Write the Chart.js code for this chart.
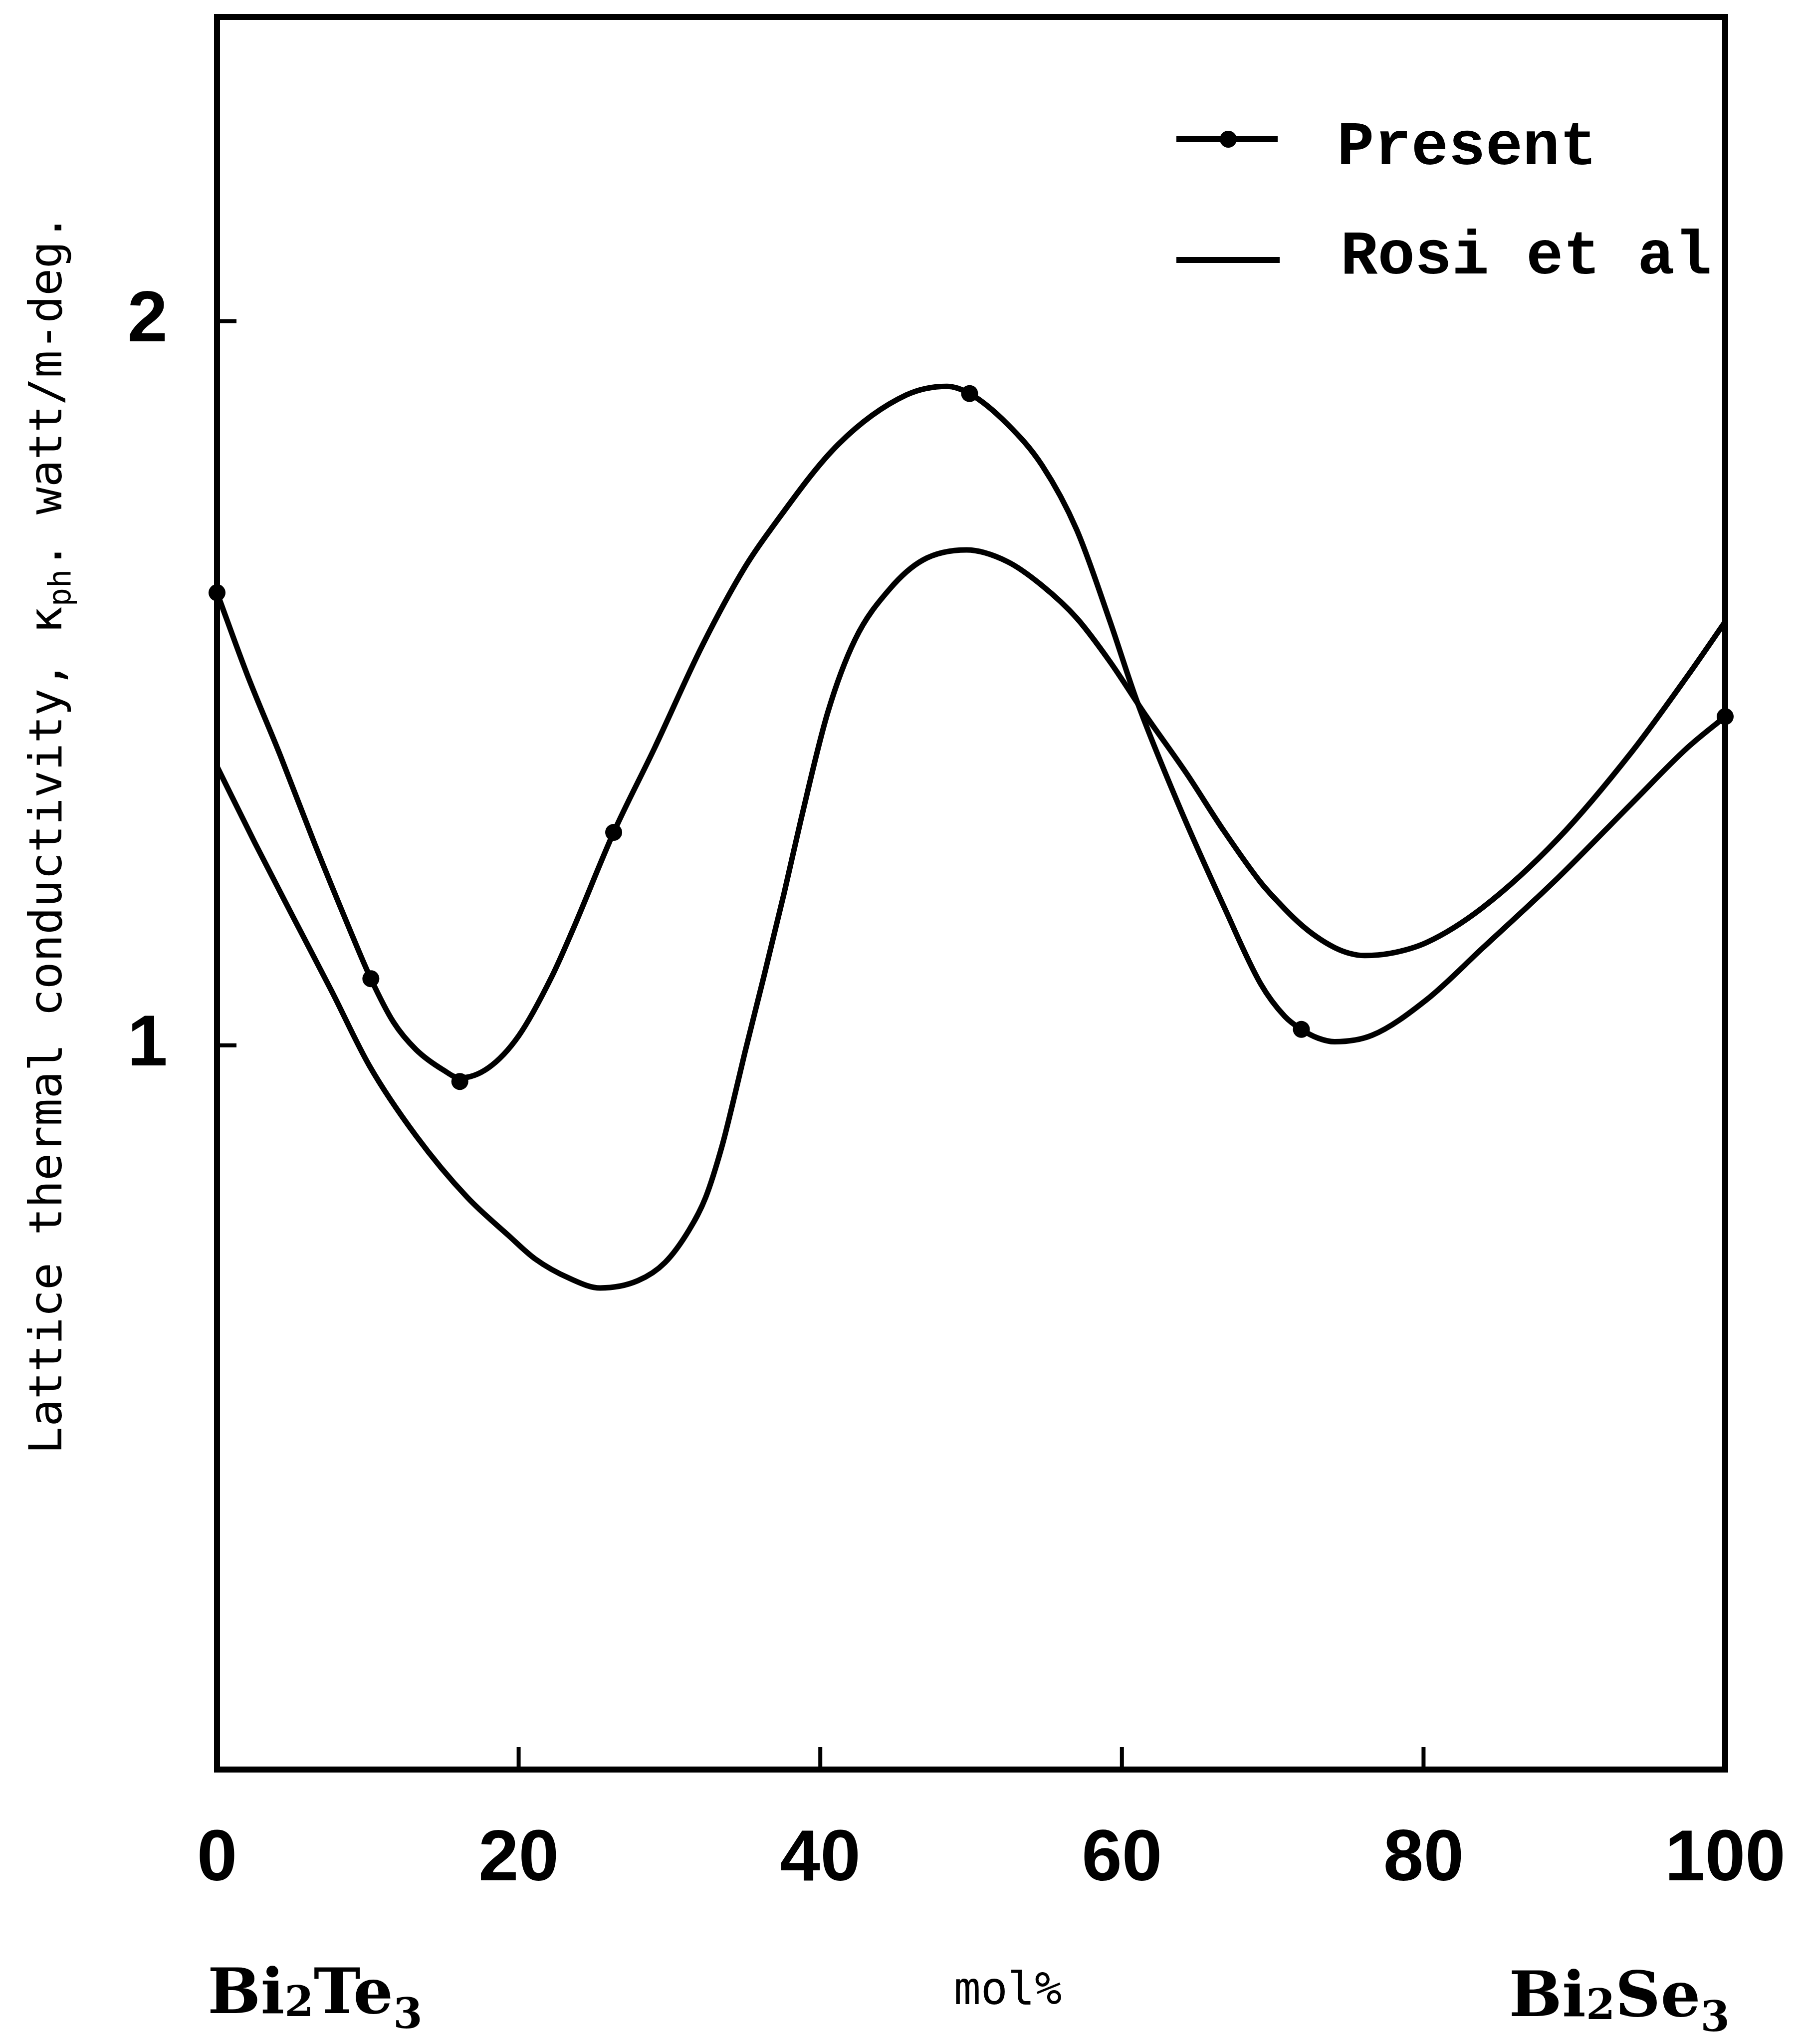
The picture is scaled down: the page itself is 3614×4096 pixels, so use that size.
<!DOCTYPE html>
<html>
<head>
<meta charset="utf-8">
<script src="https://cdn.jsdelivr.net/npm/chart.js@4.4.0/dist/chart.umd.min.js"></script>
<style>
  html, body { margin: 0; padding: 0; background: #fff; }
</style>
</head>
<body>
<canvas id="chart" width="3614" height="4096"></canvas>
<script>
// measured points of the present work (mol% Bi2Se3 vs lattice conductivity)
const markerMol = [0, 10.2, 16.1, 26.3, 49.9, 71.9, 100];
const markerKappa = [1.625, 1.092, 0.95, 1.294, 1.90, 1.022, 1.454];

// the smooth curve drawn through them
const presentMol = [0, 2, 4.2, 6.5, 8.7, 10.2, 11.7, 13.2, 15, 16.1, 18, 20, 22.2, 23.6, 26.3, 29, 32.2, 35, 36.7, 41.2, 45.7, 48.4, 49.9, 52.4, 54.7, 57, 59.2, 61, 63.7, 66.8, 69.2, 70.8, 71.9, 73, 74.1, 76.6, 80.2, 83.9, 88.9, 93.8, 97.5, 100];
const presentKappa = [1.625, 1.512, 1.40, 1.277, 1.165, 1.092, 1.032, 0.994, 0.966, 0.955, 0.969, 1.013, 1.095, 1.16, 1.294, 1.41, 1.553, 1.66, 1.712, 1.83, 1.898, 1.91, 1.90, 1.858, 1.801, 1.712, 1.586, 1.475, 1.335, 1.19, 1.085, 1.04, 1.022, 1.01, 1.005, 1.014, 1.063, 1.134, 1.231, 1.334, 1.411, 1.454];

// Rosi et al curve
const rosiMol = [0, 2.5, 5.1, 7.6, 10.1, 13.2, 16.6, 19.3, 21.1, 23.4, 25.4, 27.9, 29.7, 31.3, 32.4, 33.5, 34.2, 35, 36.2, 37.6, 38.7, 40.5, 42.3, 44.6, 46.8, 49.7, 52.4, 54.7, 57, 59.2, 61.5, 64.3, 66.7, 69.2, 70.4, 71.7, 72.9, 74.1, 75.1, 76.1, 77.8, 80.2, 83.9, 88.9, 93.8, 97.5, 100];
const rosiKappa = [1.385, 1.28, 1.175, 1.075, 0.972, 0.875, 0.79, 0.738, 0.705, 0.678, 0.665, 0.675, 0.70, 0.745, 0.79, 0.862, 0.92, 0.99, 1.09, 1.21, 1.31, 1.46, 1.56, 1.63, 1.67, 1.684, 1.668, 1.635, 1.59, 1.53, 1.458, 1.375, 1.298, 1.225, 1.197, 1.17, 1.15, 1.135, 1.127, 1.124, 1.127, 1.142, 1.19, 1.285, 1.405, 1.51, 1.585];

const xTickLabels = [0, 20, 40, 60, 80, 100];
const yTickLabels = [1, 2];
const xInnerTicks = [20, 40, 60, 80];
const yInnerTicks = [1, 2];

function toPoints(xs, ys) {
    return xs.map((x, i) => ({ x: x, y: ys[i] }));
}

// text made of pieces (for subscripts)
function drawParts(ctx, parts, x, y, align) {
    let total = 0;
    parts.forEach(p => {
        ctx.font = p.font;
        p.w = ctx.measureText(p.text).width;
        total += p.w;
    });
    let cx = x;
    if (align === 'center') cx = x - total / 2;
    if (align === 'right') cx = x - total;
    ctx.textAlign = 'left';
    parts.forEach(p => {
        ctx.font = p.font;
        ctx.fillText(p.text, cx, y + (p.dy || 0));
        cx += p.w;
    });
}

const decorations = {
    id: 'decorations',
    afterDraw(chart) {
        const ctx = chart.ctx;
        const area = chart.chartArea;
        const xs = chart.scales.x;
        const ys = chart.scales.y;
        ctx.save();
        ctx.strokeStyle = '#000';
        ctx.fillStyle = '#000';

        // frame
        ctx.lineWidth = 12;
        ctx.strokeRect(area.left, area.top, area.right - area.left, area.bottom - area.top);

        // inward tick marks
        ctx.lineWidth = 8;
        ctx.beginPath();
        xInnerTicks.forEach(v => {
            const px = xs.getPixelForValue(v);
            ctx.moveTo(px, area.bottom);
            ctx.lineTo(px, area.bottom - 45);
        });
        yInnerTicks.forEach(v => {
            const py = ys.getPixelForValue(v);
            ctx.moveTo(area.left, py);
            ctx.lineTo(area.left + 39, py);
        });
        ctx.stroke();

        // y axis title
        ctx.save();
        ctx.translate(123, 1671);
        ctx.rotate(-Math.PI / 2);
        ctx.textBaseline = 'alphabetic';
        drawParts(ctx, [
            { text: 'Lattice thermal conductivity, \u03ba', font: '91px "DejaVu Sans Mono"' },
            { text: 'ph', font: '62px "DejaVu Sans Mono"', dy: 18 },
            { text: '. watt/m-deg.', font: '91px "DejaVu Sans Mono"' }
        ], 0, 0, 'center');
        ctx.restore();

        // legend
        ctx.lineWidth = 12;
        ctx.beginPath();
        ctx.moveTo(2358, 279);
        ctx.lineTo(2561, 279);
        ctx.moveTo(2358, 521);
        ctx.lineTo(2565, 521);
        ctx.stroke();
        ctx.beginPath();
        ctx.arc(2462, 279, 17, 0, Math.PI * 2);
        ctx.fill();
        ctx.textBaseline = 'alphabetic';
        ctx.textAlign = 'left';
        ctx.font = 'bold 124px "Liberation Mono"';
        ctx.fillText('Present', 2680, 329);
        ctx.fillText('Rosi et al', 2687, 548);

        // compound labels and axis caption
        const big = 'bold 126px "DejaVu Serif"';
        const sub = 'bold 84px "DejaVu Serif"';
        drawParts(ctx, [
            { text: 'Bi', font: big },
            { text: '2', font: sub, dy: 6 },
            { text: 'Te', font: big },
            { text: '3', font: sub, dy: 30 }
        ], 416, 4034, 'left');
        drawParts(ctx, [
            { text: 'Bi', font: big },
            { text: '2', font: sub, dy: 6 },
            { text: 'Se', font: big },
            { text: '3', font: sub, dy: 30 }
        ], 3467, 4040, 'right');
        ctx.font = '90px "DejaVu Sans Mono"';
        ctx.textAlign = 'center';
        ctx.fillText('mol%', 2020, 4016);

        ctx.restore();
    }
};

const tickFont = { family: '"Liberation Sans"', size: 145, weight: 'bold' };

new Chart(document.getElementById('chart'), {
    type: 'line',
    data: {
        datasets: [
            {
                label: 'Present',
                data: toPoints(presentMol, presentKappa),
                borderColor: '#000',
                borderWidth: 11,
                pointRadius: 0,
                cubicInterpolationMode: 'monotone',
                fill: false,
                clip: false
            },
            {
                label: 'Present points',
                data: toPoints(markerMol, markerKappa),
                showLine: false,
                pointRadius: 17,
                pointBorderWidth: 0,
                pointBackgroundColor: '#000',
                clip: false
            },
            {
                label: 'Rosi et al',
                data: toPoints(rosiMol, rosiKappa),
                borderColor: '#000',
                borderWidth: 11,
                pointRadius: 0,
                cubicInterpolationMode: 'monotone',
                fill: false,
                clip: false
            }
        ]
    },
    options: {
        responsive: false,
        animation: false,
        devicePixelRatio: 1,
        layout: { padding: { top: 34, right: 156, left: 0, bottom: 0 } },
        plugins: {
            legend: { display: false },
            tooltip: { enabled: false }
        },
        scales: {
            x: {
                type: 'linear',
                min: 0,
                max: 100,
                afterBuildTicks: s => { s.ticks = xTickLabels.map(v => ({ value: v })); },
                afterFit: s => { s.height = 550; s.paddingLeft = 0; s.paddingRight = 0; },
                grid: { display: false },
                border: { display: false },
                ticks: { padding: 87, font: tickFont, color: '#000', maxRotation: 0, autoSkip: false }
            },
            y: {
                type: 'linear',
                min: 0,
                max: 2.42,
                afterBuildTicks: s => { s.ticks = yTickLabels.map(v => ({ value: v })); },
                afterFit: s => { s.width = 435; s.paddingTop = 0; s.paddingBottom = 0; },
                grid: { display: false },
                border: { display: false },
                ticks: { padding: 91, font: tickFont, color: '#000', autoSkip: false }
            }
        }
    },
    plugins: [decorations]
});
</script>
</body>
</html>
